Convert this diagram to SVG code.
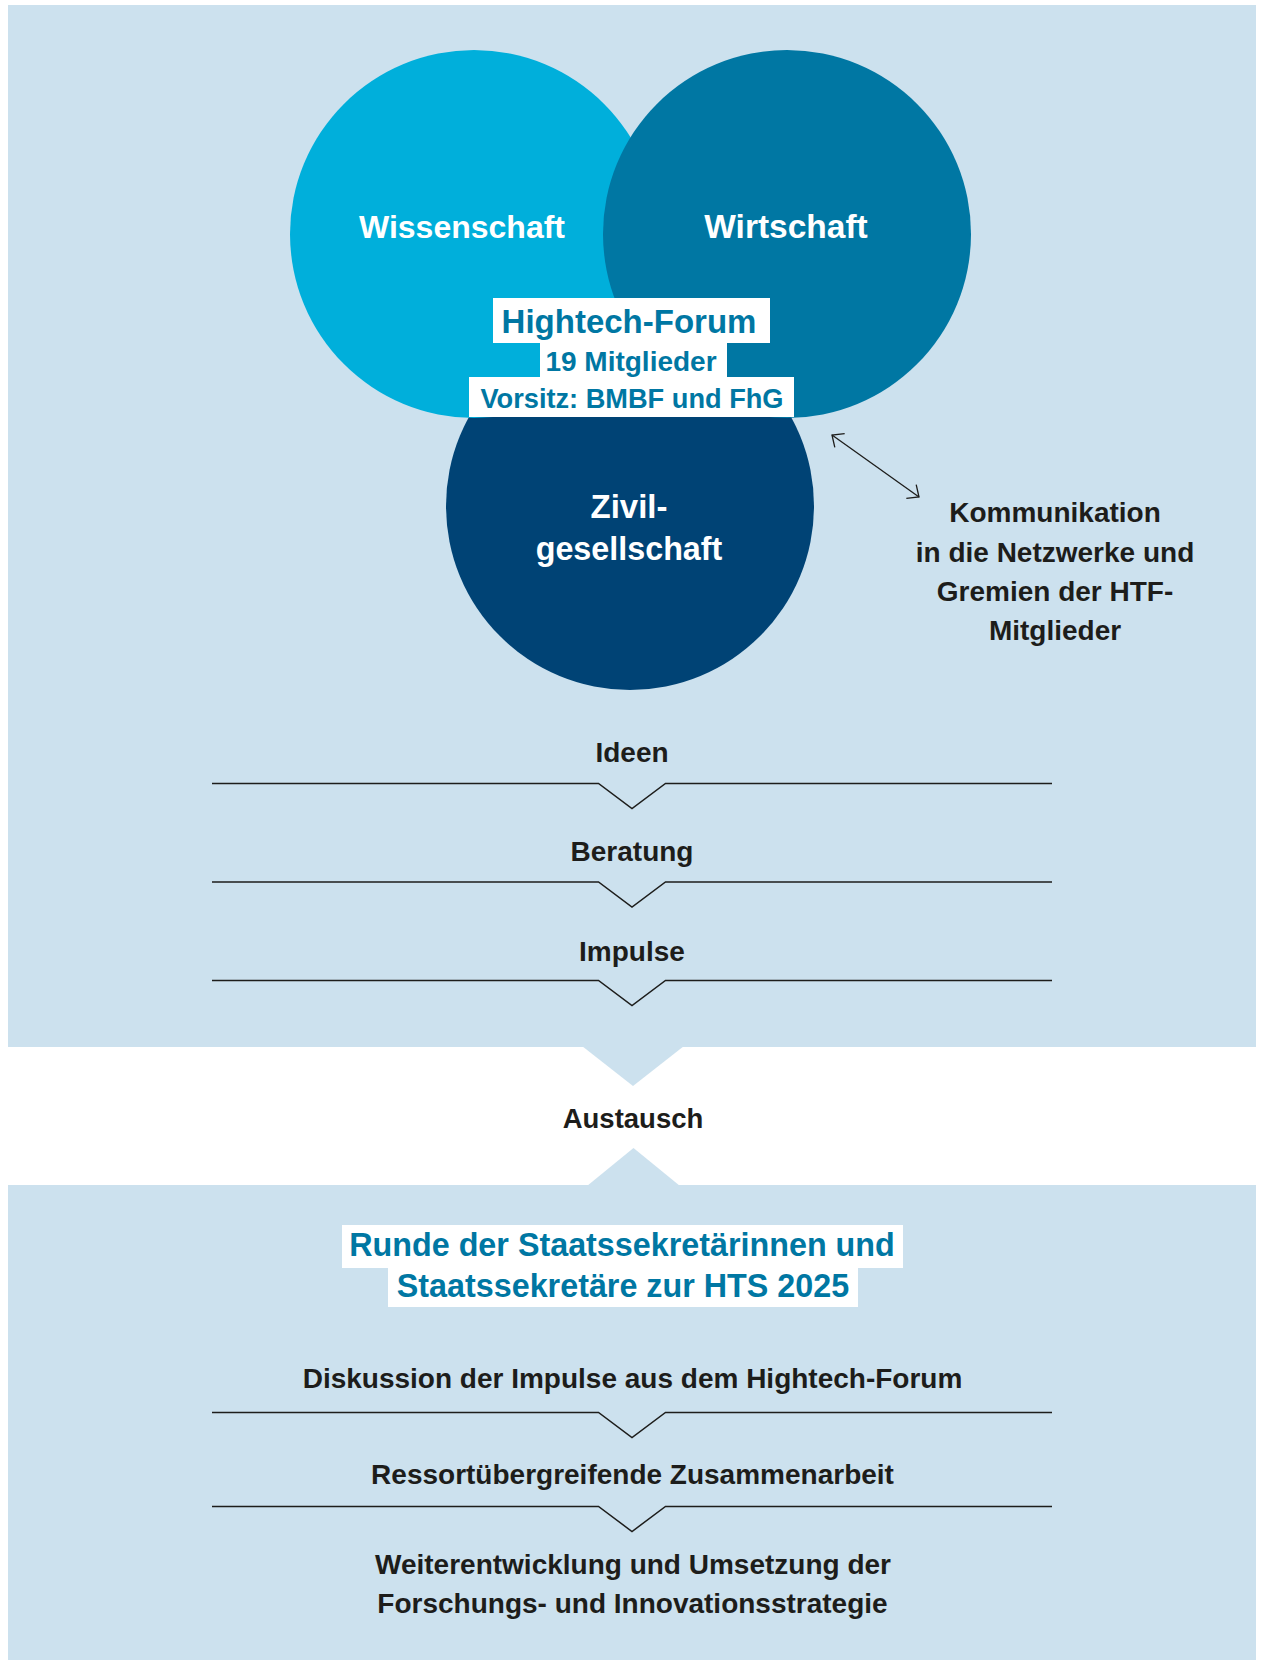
<svg xmlns="http://www.w3.org/2000/svg" width="1261" height="1660" viewBox="0 0 1261 1660">
  <defs>
    <style>
      .panel { fill: #cce1ee; }
      .lbl { font-family: "Liberation Sans", Arial, sans-serif; font-weight: bold; text-anchor: middle; }
      .white { fill: #ffffff; }
      .teal { fill: #0077a3; }
      .dark { fill: #1d1d1b; }
      .step { fill: none; stroke: #1d1d1b; stroke-width: 1.5; stroke-linejoin: miter; }
      .tag { fill: #ffffff; }
    </style>
    <marker id="openHead" markerUnits="userSpaceOnUse" viewBox="0 0 14 20" markerWidth="14" markerHeight="20" refX="11.5" refY="10" orient="auto-start-reverse" overflow="visible">
      <path d="M2,1.5 L11.5,10 L2,18.5" fill="none" stroke="#1d1d1b" stroke-width="1.3"/>
    </marker>
  </defs>

  <rect width="1261" height="1660" fill="#ffffff"/>

  <!-- upper panel with downward notch -->
  <g id="panel-forum">
    <rect class="panel" x="8" y="5" width="1248" height="1042"/>
    <polygon class="panel" points="582,1046 684,1046 633,1086"/>
  </g>

  <!-- lower panel with upward notch -->
  <g id="panel-runde">
    <rect class="panel" x="8" y="1185" width="1248" height="475"/>
    <polygon class="panel" points="587,1186 680,1186 633.5,1148"/>
  </g>

  <!-- three overlapping circles -->
  <g id="node-zivilgesellschaft">
    <circle cx="630" cy="506" r="184" fill="#004375"/>
  </g>
  <g id="node-wissenschaft">
    <circle cx="474" cy="234" r="184" fill="#00afdb"/>
    <text class="lbl white" x="462" y="238" font-size="32">Wissenschaft</text>
  </g>
  <g id="node-wirtschaft">
    <circle cx="787" cy="234" r="184" fill="#0077a3"/>
    <text class="lbl white" x="786" y="238" font-size="33.5">Wirtschaft</text>
  </g>
  <g id="node-zivil-label">
    <text class="lbl white" x="629" y="518" font-size="33">Zivil-</text>
    <text class="lbl white" x="629" y="560" font-size="32.3">gesellschaft</text>
  </g>

  <!-- Hightech-Forum label -->
  <g id="node-hightech-forum">
    <rect class="tag" x="493" y="298" width="277" height="45"/>
    <rect class="tag" x="540" y="342" width="187" height="36"/>
    <rect class="tag" x="469" y="377" width="325" height="40"/>
    <text class="lbl teal" x="629" y="333" font-size="33">Hightech-Forum</text>
    <text class="lbl teal" x="631" y="370.5" font-size="28">19 Mitglieder</text>
    <text class="lbl teal" x="632" y="408" font-size="27.2">Vorsitz: BMBF und FhG</text>
  </g>

  <!-- communication note -->
  <g id="node-kommunikation">
    <text class="lbl dark" x="1055" y="521.5" font-size="28">Kommunikation</text>
    <text class="lbl dark" x="1055" y="561.5" font-size="28">in die Netzwerke und</text>
    <text class="lbl dark" x="1055" y="601" font-size="28">Gremien der HTF-</text>
    <text class="lbl dark" x="1055" y="640" font-size="28">Mitglieder</text>
  </g>

  <!-- stage labels, upper panel -->
  <g id="node-ideen">
    <text class="lbl dark" x="632" y="761.5" font-size="28">Ideen</text>
  </g>
  <g id="node-beratung">
    <text class="lbl dark" x="632" y="861" font-size="28">Beratung</text>
  </g>
  <g id="node-impulse">
    <text class="lbl dark" x="632" y="961" font-size="28">Impulse</text>
  </g>
  <g id="node-austausch">
    <text class="lbl dark" x="633" y="1127.5" font-size="27.5">Austausch</text>
  </g>

  <!-- Runde der Staatssekretärinnen und Staatssekretäre -->
  <g id="node-runde">
    <rect class="tag" x="342" y="1225" width="561" height="43"/>
    <rect class="tag" x="388" y="1267" width="470" height="40"/>
    <text class="lbl teal" x="622" y="1256" font-size="32.3">Runde der Staatssekretärinnen und</text>
    <text class="lbl teal" x="623" y="1296.5" font-size="32.3">Staatssekretäre zur HTS 2025</text>
  </g>

  <!-- stage labels, lower panel -->
  <g id="node-diskussion">
    <text class="lbl dark" x="632.5" y="1387.5" font-size="28">Diskussion der Impulse aus dem Hightech-Forum</text>
  </g>
  <g id="node-ressort">
    <text class="lbl dark" x="632.5" y="1484" font-size="28">Ressortübergreifende Zusammenarbeit</text>
  </g>
  <g id="node-weiterentwicklung">
    <text class="lbl dark" x="633" y="1574" font-size="28">Weiterentwicklung und Umsetzung der</text>
    <text class="lbl dark" x="632.5" y="1613" font-size="28">Forschungs- und Innovationsstrategie</text>
  </g>

  <!-- connectors: divider lines with chevrons and the two-way arrow -->
  <g id="connectors">
    <path class="step" d="M212,783.5 H598.5 L632,808.5 L665.5,783.5 H1052"/>
    <path class="step" d="M212,882 H598.5 L632,907 L665.5,882 H1052"/>
    <path class="step" d="M212,980.5 H598.5 L632,1005.5 L665.5,980.5 H1052"/>
    <path class="step" d="M212,1412.5 H598.5 L632,1437.5 L665.5,1412.5 H1052"/>
    <path class="step" d="M212,1506.5 H598.5 L632,1531.5 L665.5,1506.5 H1052"/>
    <line x1="832" y1="435" x2="919" y2="497" stroke="#1d1d1b" stroke-width="1.3" marker-start="url(#openHead)" marker-end="url(#openHead)"/>
  </g>
</svg>
